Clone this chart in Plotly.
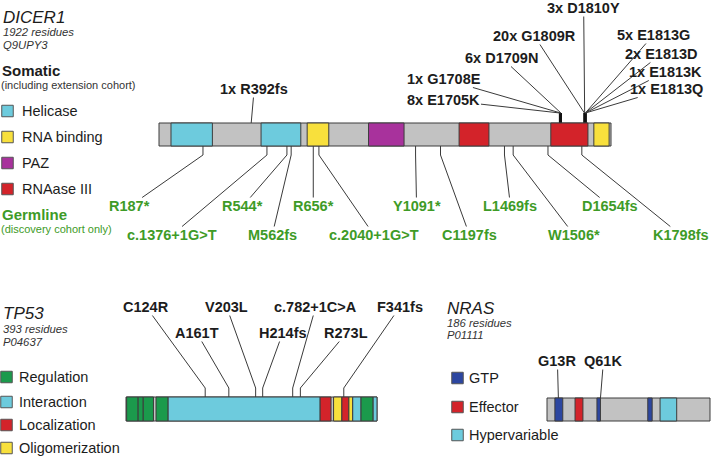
import plotly.graph_objects as go

W, H = 711, 458

# ---------------- data ----------------
# DICER1
dicer_len = 1922
dicer_dom_name = ["Helicase", "Helicase", "RNA binding", "PAZ", "RNAase III", "RNAase III", "RNA binding"]
dicer_dom_start = [51, 434, 630, 891, 1276, 1666, 1849]
dicer_dom_end = [227, 603, 722, 1042, 1403, 1824, 1914]
som_labels = ["1x R392fs", "8x E1705K", "1x G1708E", "6x D1709N", "20x G1809R",
              "3x D1810Y", "5x E1813G", "2x E1813D", "1x E1813K", "1x E1813Q"]
som_pos = [392, 1705, 1708, 1709, 1809, 1810, 1813, 1813, 1813, 1813]
germ_labels = ["R187*", "c.1376+1G>T", "R544*", "M562fs", "R656*", "c.2040+1G>T",
               "Y1091*", "C1197fs", "L1469fs", "W1506*", "D1654fs", "K1798fs"]
germ_pos = [187, 459, 544, 562, 656, 680, 1091, 1197, 1469, 1506, 1654, 1798]

# TP53
tp53_len = 393
tp53_dom_name = ["Regulation", "Regulation", "Regulation", "Regulation", "Interaction",
                 "Localization", "Oligomerization", "Localization", "Oligomerization",
                 "Interaction", "Regulation", "Interaction"]
tp53_dom_start = [1, 19, 27, 47, 66, 304, 325, 338, 349, 355, 368, 387]
tp53_dom_end = [19, 27, 43, 66, 304, 321, 338, 349, 355, 368, 387, 393]
tp53_labels = ["C124R", "A161T", "V203L", "H214fs", "c.782+1C>A", "R273L", "F341fs"]
tp53_pos = [124, 161, 203, 214, 261, 273, 341]

# NRAS
nras_len = 186
nras_dom_name = ["GTP", "Effector", "GTP", "GTP", "Hypervariable"]
nras_dom_start = [9, 32, 57, 115, 129]
nras_dom_end = [18, 41, 61, 120, 148]
nras_labels = ["G13R", "Q61K"]
nras_pos = [13, 61]

# ---------------- styles / layout ----------------
COL = {"Helicase": "#6dcbdd", "RNA binding": "#f8e03c", "PAZ": "#a8329c",
       "RNAase III": "#d3232a", "Regulation": "#1b9a4c", "Interaction": "#6dcbdd",
       "Localization": "#d3232a", "Oligomerization": "#f8e03c", "GTP": "#2c46a0",
       "Effector": "#d3232a", "Hypervariable": "#6dcbdd"}
GREY = "#c2c2c2"
EDGE = "#3c3c3c"
GREEN = "#3e9b27"
TXT = "#1c1c1c"
FONT = "Liberation Sans, Arial, Helvetica, sans-serif"
LS = 14.5

# pixel geometry of the three protein bars: (left px, right px, top px, bottom px)
DICER_BAR = (159, 611, 123, 146)
TP53_BAR = (126, 377, 397, 421)
NRAS_BAR = (547, 710, 398, 421)


def axis_range(bar, length):
    k = length / (bar[1] - bar[0])
    return [-bar[0] * k, (W - bar[0]) * k]


fig = go.Figure()
shapes = []
annotations = []


def draw_bar(xref, bar, length, starts, ends, names):
    shapes.append(dict(type="rect", xref=xref, yref="y", x0=0, x1=length, y0=bar[2], y1=bar[3],
                       fillcolor=GREY, line=dict(color=EDGE, width=1), layer="above"))
    for s, e, n in zip(starts, ends, names):
        shapes.append(dict(type="rect", xref=xref, yref="y", x0=s, x1=e, y0=bar[2], y1=bar[3],
                           fillcolor=COL[n], line=dict(color=EDGE, width=1), layer="above"))


draw_bar("x2", DICER_BAR, dicer_len, dicer_dom_start, dicer_dom_end, dicer_dom_name)
draw_bar("x3", TP53_BAR, tp53_len, tp53_dom_start, tp53_dom_end, tp53_dom_name)
draw_bar("x4", NRAS_BAR, nras_len, nras_dom_start, nras_dom_end, nras_dom_name)


def stems(xaxis, pos, y0, y1, width, color):
    xs, ys = [], []
    for p in pos:
        xs += [p, p, None]
        ys += [y0, y1, None]
    fig.add_trace(go.Scatter(x=xs, y=ys, xaxis=xaxis, yaxis="y", mode="lines",
                             line=dict(color=color, width=width), hoverinfo="skip",
                             showlegend=False))


def leader(xref, pos, ytip, text, ax, ay, color, bold=True):
    annotations.append(dict(
        xref=xref, yref="y", x=pos, y=ytip, ax=ax, ay=ay, axref="pixel", ayref="pixel",
        text=("<b>%s</b>" % text) if bold else text, showarrow=True, arrowhead=0,
        arrowwidth=1, arrowcolor="#3a3a3a", standoff=0, startstandoff=0,
        font=dict(family=FONT, size=LS, color=color), borderpad=0))


# DICER1 somatic
SOM_TIP = 113
som_ax = [3, -116, -117, -59, -50, -1, 68, 76, 80, 81]
som_ay = [-34, -13, -34, -55, -77, -105, -78, -59, -41, -24]
stems("x2", som_pos[1:], DICER_BAR[2], SOM_TIP, 2.2, "#111111")
for i, (p, t) in enumerate(zip(som_pos, som_labels)):
    tip = DICER_BAR[2] if i == 0 else SOM_TIP
    leader("x2", p, tip, t, som_ax[i], som_ay[i], TXT)

# DICER1 germline
GERM_TIP = 155
germ_ax = [-73, -95, -44, -19, 0, 55, 1, 29, 6, 61, 62, 99]
germ_ay = [51, 80, 51, 80, 51, 80, 51, 80, 51, 80, 51, 80]
stems("x2", germ_pos, DICER_BAR[3], GERM_TIP, 1, "#3a3a3a")
for p, t, a, b in zip(germ_pos, germ_labels, germ_ax, germ_ay):
    leader("x2", p, GERM_TIP, t, a, b, GREEN)

# TP53
TP_TIP = 388
tp_ax = [-59, -32, -29, 20, 23, 46, 56]
tp_ay = [-81, -55, -81, -55, -81, -55, -81]
stems("x3", tp53_pos, TP53_BAR[2], TP_TIP, 1, "#3a3a3a")
for p, t, a, b in zip(tp53_pos, tp53_labels, tp_ax, tp_ay):
    leader("x3", p, TP_TIP, t, a, b, TXT)

# NRAS
nr_ax = [-1, 3]
nr_ay = [-37, -37]
for p, t, a, b in zip(nras_pos, nras_labels, nr_ax, nr_ay):
    leader("x4", p, NRAS_BAR[2], t, a, b, TXT)


# ---------------- titles & legends (pixel axis x) ----------------
def txt(x, y, text, size, color=TXT, anchor="left"):
    annotations.append(dict(xref="x", yref="y", x=x, y=y, text=text, showarrow=False,
                            xanchor=anchor, yanchor="middle", borderpad=0,
                            font=dict(family=FONT, size=size, color=color)))


txt(2, 17, "<i>DICER1</i>", 17)
txt(2, 32, "<i>1922 residues</i>", 11.3, "#333333")
txt(2, 45, "<i>Q9UPY3</i>", 11.3, "#333333")
txt(1, 70, "<b>Somatic</b>", 15)
txt(0, 85, "(including extension cohort)", 11, "#333333")
txt(1, 214, "<b>Germline</b>", 15, GREEN)
txt(0, 229, "(discovery cohort only)", 11, GREEN)

txt(2, 313, "<i>TP53</i>", 17)
txt(2, 329, "<i>393 residues</i>", 11.3, "#333333")
txt(2, 342, "<i>P04637</i>", 11.3, "#333333")

txt(446, 308, "<i>NRAS</i>", 17)
txt(446, 323, "<i>186 residues</i>", 11.3, "#333333")
txt(446, 335, "<i>P01111</i>", 11.3, "#333333")

dicer_leg = ["Helicase", "RNA binding", "PAZ", "RNAase III"]
tp53_leg = ["Regulation", "Interaction", "Localization", "Oligomerization"]
nras_leg = ["GTP", "Effector", "Hypervariable"]


def legend(names, x_sq, x_txt, ys):
    fig.add_trace(go.Scatter(x=[x_sq] * len(names), y=ys, xaxis="x", yaxis="y", mode="markers",
                             marker=dict(symbol="square", size=11.5,
                                         color=[COL[n] for n in names],
                                         line=dict(color="#555555", width=1)),
                             hoverinfo="skip", showlegend=False))
    for n, y in zip(names, ys):
        txt(x_txt, y, n, 14.5)


legend(dicer_leg, 7.5, 21, [111, 137, 163, 189])
legend(tp53_leg, 6.5, 18, [377, 402, 425, 448])
legend(nras_leg, 457.5, 468, [378, 407, 435])

# ---------------- axes ----------------
hidden = dict(visible=False, showgrid=False, zeroline=False, fixedrange=True)
fig.update_layout(
    width=W, height=H, autosize=False,
    margin=dict(l=0, r=0, t=0, b=0, pad=0),
    paper_bgcolor="white", plot_bgcolor="white",
    showlegend=False, hovermode=False,
    xaxis=dict(range=[0, W], domain=[0, 1], anchor="y", **hidden),
    xaxis2=dict(range=axis_range(DICER_BAR, dicer_len), overlaying="x", anchor="y", **hidden),
    xaxis3=dict(range=axis_range(TP53_BAR, tp53_len), overlaying="x", anchor="y", **hidden),
    xaxis4=dict(range=axis_range(NRAS_BAR, nras_len), overlaying="x", anchor="y", **hidden),
    yaxis=dict(range=[H, 0], domain=[0, 1], anchor="x", **hidden),
    shapes=shapes, annotations=annotations,
)

fig.write_html("out.html", config={"displayModeBar": False},
               post_script="document.body.style.margin='0';document.body.style.overflow='hidden';")
